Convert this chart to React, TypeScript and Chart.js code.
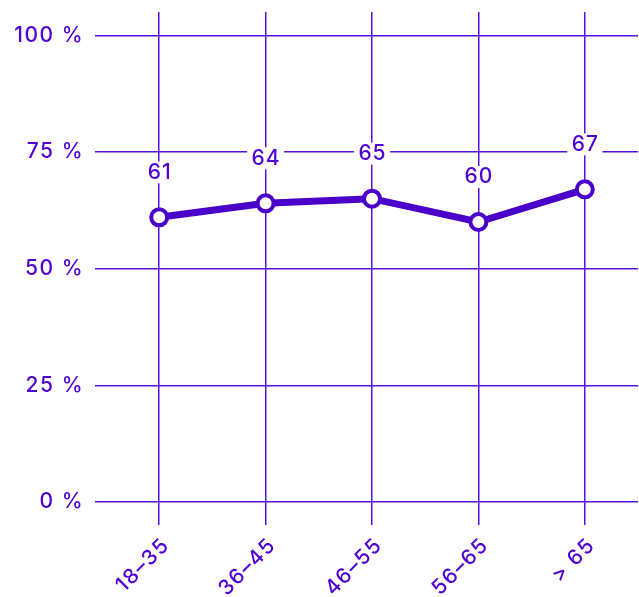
import React, { useEffect, useRef } from "react";
import { Chart, registerables } from "chart.js";

Chart.register(...registerables);

const categories = ["18–35", "36–45", "46–55", "56–65", "> 65"];
const values = [61, 64, 65, 60, 67];
const yTicks = [0, 25, 50, 75, 100];

const VIOLET = "#4a00c8";
const GRID = "#5a10e0";
const TEXT = "#4f02d2";
const FONT = "Inter, 'Noto Sans', sans-serif";

const spacingPlugin = {
  id: "spacing",
  beforeUpdate(chart: any) {
    chart.ctx.letterSpacing = "1.5px";
  },
  beforeDraw(chart: any) {
    chart.ctx.letterSpacing = "1.5px";
  },
};

const labelPlugin = {
  id: "valueLabels",
  afterDatasetsDraw(chart: any) {
    const ctx = chart.ctx;
    const meta = chart.getDatasetMeta(0);
    ctx.save();
    ctx.letterSpacing = "1px";
    ctx.font = `500 21px ${FONT}`;
    ctx.textAlign = "center";
    ctx.textBaseline = "middle";
    meta.data.forEach((pt: any, i: number) => {
      const text = String(values[i]);
      const x = pt.x;
      const y = pt.y - 45;
      const w = ctx.measureText(text).width + 8;
      const h = 22;
      ctx.fillStyle = "#ffffff";
      ctx.fillRect(x - w / 2, y - h / 2, w, h);
      ctx.fillStyle = TEXT;
      ctx.fillText(text, x + 0.5, y);
    });
    ctx.restore();
  },
};

export default function App() {
  const ref = useRef<HTMLCanvasElement>(null);
  useEffect(() => {
    document.body.style.margin = "0";
    document.body.style.overflow = "hidden";
    const chart = new Chart(ref.current!, {
      type: "line",
      data: {
        labels: categories,
        datasets: [
          {
            data: values,
            borderColor: VIOLET,
            borderWidth: 7,
            pointRadius: 8,
            pointBorderWidth: 4,
            pointBackgroundColor: "#ffffff",
            pointBorderColor: VIOLET,
            tension: 0,
          },
        ],
      },
      options: {
        animation: false,
        responsive: false,
        layout: { padding: { top: 12, right: 1, left: 0, bottom: 0 } },
        plugins: { legend: { display: false }, tooltip: { enabled: false } },
        scales: {
          x: {
            offset: true,
            grid: { color: GRID, lineWidth: 1.5, tickLength: 23, offset: false },
            border: { display: false },
            ticks: {
              color: TEXT,
              font: { family: FONT, size: 21, weight: "500" },
              maxRotation: 45,
              minRotation: 45,
              padding: 8,
              labelOffset: 7,
            },
            afterFit(scale: any) {
              scale.height = 95;
            },
          },
          y: {
            min: 0,
            max: 105,
            grid: { color: GRID, lineWidth: 1.5, tickLength: 11 },
            border: { display: false },
            ticks: {
              stepSize: 25,
              includeBounds: false,
              color: TEXT,
              padding: 11,
              font: { family: FONT, size: 21, weight: "500" },
              callback: (v: any) => (yTicks.includes(Number(v)) ? `${v} %` : ""),
            },
            afterFit(scale: any) {
              scale.width = 106;
              scale.paddingTop = 0;
              scale.paddingBottom = 0;
            },
          },
        },
      },
      plugins: [spacingPlugin, labelPlugin],
    } as any);
    return () => chart.destroy();
  }, []);
  return (
    <div style={{ width: 639, height: 597, overflow: "hidden" }}>
      <canvas ref={ref} width={650} height={597} style={{ display: "block" }} />
    </div>
  );
}
